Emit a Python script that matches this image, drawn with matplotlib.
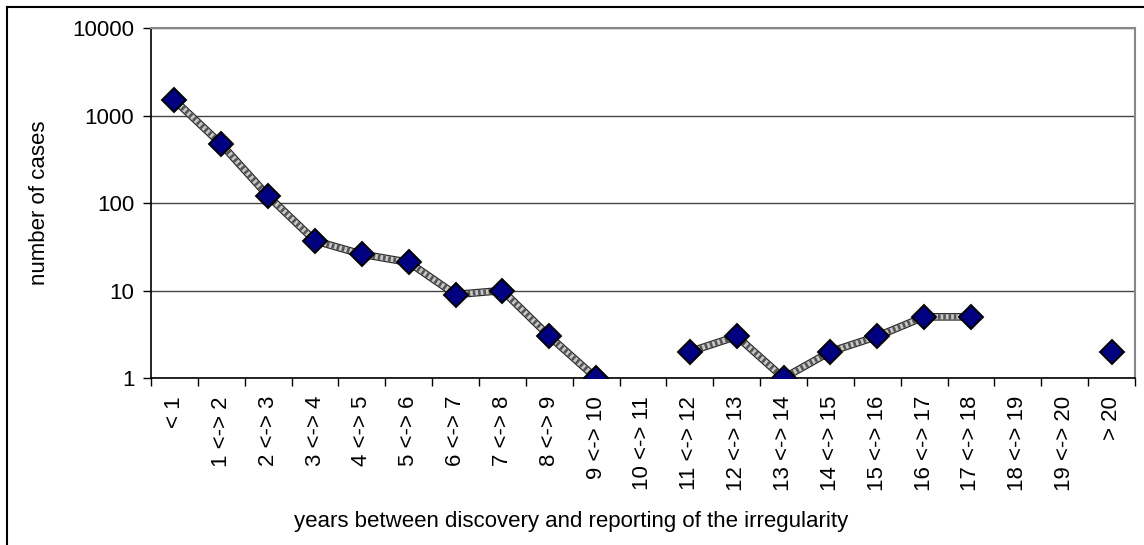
import numpy as np
import matplotlib
matplotlib.use("Agg")
import matplotlib.pyplot as plt
from matplotlib.lines import Line2D

plt.rcParams['font.family'] = ['Liberation Sans', 'DejaVu Sans']

categories = ['< 1', '1 <-> 2', '2 <-> 3', '3 <-> 4', '4 <-> 5', '5 <-> 6',
              '6 <-> 7', '7 <-> 8', '8 <-> 9', '9 <-> 10', '10 <-> 11',
              '11 <-> 12', '12 <-> 13', '13 <-> 14', '14 <-> 15', '15 <-> 16',
              '16 <-> 17', '17 <-> 18', '18 <-> 19', '19 <-> 20', '> 20']
cases = [1500, 470, 120, 37, 26, 21, 9, 10, 3, 1, np.nan,
         2, 3, 1, 2, 3, 5, 5, np.nan, np.nan, 2]
yticks = [1, 10, 100, 1000, 10000]
ytick_labels = ['1', '10', '100', '1000', '10000']

fs = 16
fig = plt.figure(figsize=(11.44, 5.45), dpi=100)
ax = fig.add_axes([0.132, 0.3064, 0.8601, 0.6422])

x = np.arange(len(categories))
y = np.array(cases, dtype=float)

# patterned line: dark outline, light core, dotted texture
ax.plot(x, y, color='#2a2a2a', lw=5.5, solid_capstyle='butt', zorder=2)
ax.plot(x, y, color='#c8c8c8', lw=3.8, solid_capstyle='butt', zorder=3)
ax.plot(x, y, color='#555555', lw=3.8, ls=(0, (0.5, 0.5)), zorder=3)
ax.plot(x, y, ls='none', marker='D', ms=12, mfc='#000080', mec='black',
        mew=1.4, zorder=4)

ax.set_yscale('log')
ax.set_ylim(1, 10000)
ax.set_xlim(-0.5, len(categories) - 0.5)
ax.set_yticks(yticks)
ax.set_yticklabels(ytick_labels)
ax.yaxis.set_minor_locator(matplotlib.ticker.NullLocator())
ax.yaxis.grid(True, color='#444444', lw=1.0)
ax.set_axisbelow(True)

ax.set_xticks(np.arange(len(categories) + 1) - 0.5)
ax.set_xticklabels([])
ax.set_xticks(x, minor=True)
ax.set_xticklabels(categories, minor=True, rotation=90, fontsize=fs,
                   ha='center', va='top')
ax.tick_params(axis='x', which='major', direction='out', length=6, width=1)
ax.tick_params(axis='x', which='minor', length=0, pad=13)
ax.tick_params(axis='y', direction='out', length=6, width=1, labelsize=fs,
               pad=6)

for s in ('left', 'bottom'):
    ax.spines[s].set_color('black')
    ax.spines[s].set_linewidth(1.2)
for s in ('top', 'right'):
    ax.spines[s].set_color('#888888')
    ax.spines[s].set_linewidth(1.5)

ax.set_ylabel('number of cases', fontsize=fs, labelpad=16)
fig.text(0.499, 0.044, 'years between discovery and reporting of the irregularity',
         fontsize=fs, ha='center', va='center')

# chart frame (partly cropped in the original)
fig.add_artist(Line2D([7 / 1144, 1.01], [1 - 7 / 545, 1 - 7 / 545],
                      color='black', lw=1.5, transform=fig.transFigure))
fig.add_artist(Line2D([7 / 1144, 7 / 1144], [-0.01, 1 - 7 / 545],
                      color='black', lw=1.5, transform=fig.transFigure))

fig.savefig('out.png', dpi=100)
